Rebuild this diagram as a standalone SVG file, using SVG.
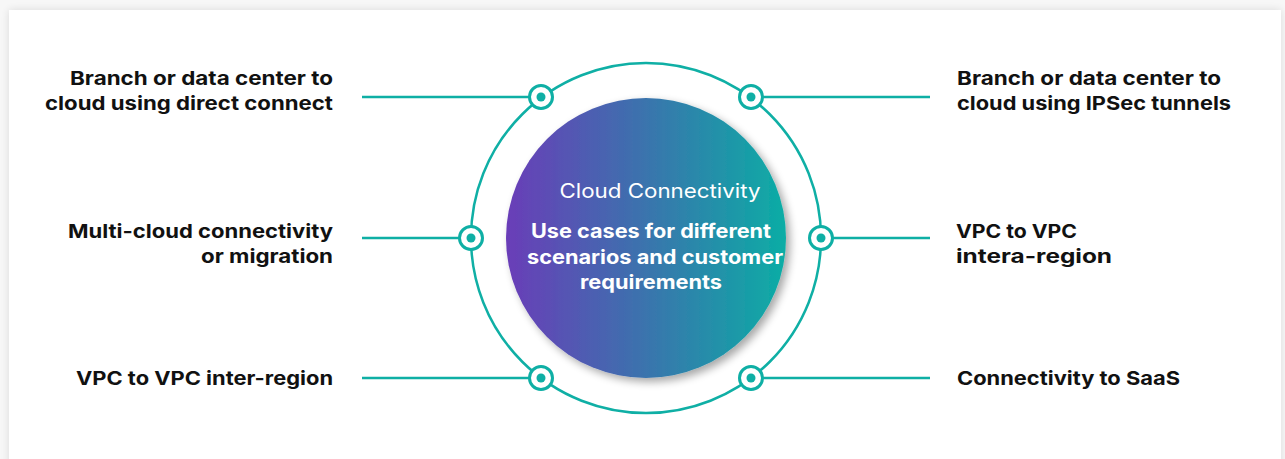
<svg xmlns="http://www.w3.org/2000/svg" width="1285" height="459" viewBox="0 0 1285 459">
<defs>
<linearGradient id="grad" x1="0" y1="0" x2="1" y2="0">
<stop offset="0" stop-color="#6a3db8"/>
<stop offset="0.5" stop-color="#3a74ad"/>
<stop offset="1" stop-color="#0cada5"/>
</linearGradient>
<filter id="shadow" x="-20%" y="-20%" width="140%" height="140%">
<feGaussianBlur in="SourceAlpha" stdDeviation="4"/>
<feOffset dx="4" dy="4"/>
<feComponentTransfer><feFuncA type="linear" slope="0.35"/></feComponentTransfer>
<feMerge><feMergeNode/><feMergeNode in="SourceGraphic"/></feMerge>
</filter>
<filter id="cardshadow" x="-5%" y="-5%" width="110%" height="110%">
<feGaussianBlur in="SourceAlpha" stdDeviation="4"/>
<feComponentTransfer><feFuncA type="linear" slope="0.12"/></feComponentTransfer>
<feMerge><feMergeNode/><feMergeNode in="SourceGraphic"/></feMerge>
</filter>
<style>
.lbl{font-family:Inter,"Noto Sans","Liberation Sans",sans-serif;font-weight:700;font-size:19px;fill:#111111}
.r{text-anchor:end}
.ln{stroke:#0fafa5;stroke-width:2.5;fill:none}
.ring{stroke:#0fafa5;stroke-width:3;fill:#ffffff}
.dot{fill:#0fafa5}
.ct{font-family:Inter,"Noto Sans","Liberation Sans",sans-serif;fill:#ffffff;text-anchor:middle}
</style>
</defs>
<rect x="0" y="0" width="1285" height="459" fill="#f7f7f7"/>
<rect x="9" y="10" width="1272" height="460" fill="#ffffff" filter="url(#cardshadow)"/>
<g id="connectors">
<circle cx="646" cy="238" r="175" class="ln"/>
<line x1="362" y1="97" x2="529" y2="97" class="ln"/>
<line x1="763" y1="97" x2="930" y2="97" class="ln"/>
<line x1="362" y1="238" x2="459" y2="238" class="ln"/>
<line x1="833" y1="238" x2="930" y2="238" class="ln"/>
<line x1="362" y1="378" x2="529" y2="378" class="ln"/>
<line x1="763" y1="378" x2="930" y2="378" class="ln"/>
</g>
<g id="ports">
<circle cx="541" cy="97" r="11.5" class="ring"/><circle cx="541" cy="97" r="4.5" class="dot"/>
<circle cx="751" cy="97" r="11.5" class="ring"/><circle cx="751" cy="97" r="4.5" class="dot"/>
<circle cx="471" cy="238" r="11.5" class="ring"/><circle cx="471" cy="238" r="4.5" class="dot"/>
<circle cx="821" cy="238" r="11.5" class="ring"/><circle cx="821" cy="238" r="4.5" class="dot"/>
<circle cx="541" cy="378" r="11.5" class="ring"/><circle cx="541" cy="378" r="4.5" class="dot"/>
<circle cx="751" cy="378" r="11.5" class="ring"/><circle cx="751" cy="378" r="4.5" class="dot"/>
</g>
<g id="center">
<circle cx="646" cy="238" r="140" fill="url(#grad)" filter="url(#shadow)"/>
<text x="660" y="198" class="ct" font-size="20" textLength="201" lengthAdjust="spacingAndGlyphs">Cloud Connectivity</text>
<text class="ct" font-size="19.5" font-weight="700"><tspan x="651" y="238" textLength="240" lengthAdjust="spacingAndGlyphs">Use cases for different</tspan><tspan x="655" y="264" textLength="256" lengthAdjust="spacingAndGlyphs">scenarios and customer</tspan><tspan x="651" y="289" textLength="142" lengthAdjust="spacingAndGlyphs">requirements</tspan></text>
</g>
<g id="n1"><text class="lbl r"><tspan x="333" y="85" textLength="263" lengthAdjust="spacingAndGlyphs">Branch or data center to</tspan><tspan x="333" y="110" textLength="288" lengthAdjust="spacingAndGlyphs">cloud using direct connect</tspan></text></g>
<g id="n2"><text class="lbl"><tspan x="957" y="85" textLength="264" lengthAdjust="spacingAndGlyphs">Branch or data center to</tspan><tspan x="957" y="110" textLength="274" lengthAdjust="spacingAndGlyphs">cloud using IPSec tunnels</tspan></text></g>
<g id="n3"><text class="lbl r"><tspan x="333" y="238" textLength="265" lengthAdjust="spacingAndGlyphs">Multi-cloud connectivity</tspan><tspan x="333" y="263" textLength="132" lengthAdjust="spacingAndGlyphs">or migration</tspan></text></g>
<g id="n4"><text class="lbl"><tspan x="956" y="238" textLength="121" lengthAdjust="spacingAndGlyphs">VPC to VPC</tspan><tspan x="956" y="263" textLength="156" lengthAdjust="spacingAndGlyphs">intera-region</tspan></text></g>
<g id="n5"><text class="lbl r"><tspan x="333" y="385" textLength="257" lengthAdjust="spacingAndGlyphs">VPC to VPC inter-region</tspan></text></g>
<g id="n6"><text class="lbl"><tspan x="957" y="385" textLength="223" lengthAdjust="spacingAndGlyphs">Connectivity to SaaS</tspan></text></g>
</svg>
